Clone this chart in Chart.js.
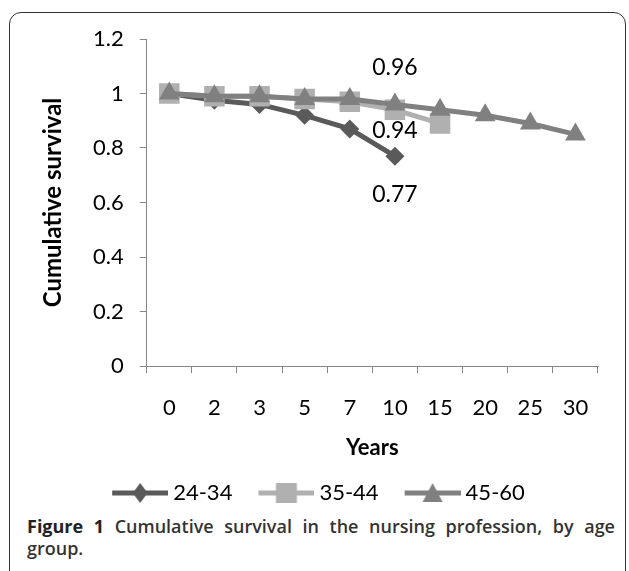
<!DOCTYPE html>
<html>
<head>
<meta charset="utf-8">
<script src="https://cdn.jsdelivr.net/npm/chart.js@4.4.1/dist/chart.umd.min.js"></script>
<style>
    html, body { margin: 0; padding: 0; background: #fff; }
    body { width: 629px; height: 571px; position: relative; overflow: hidden; }
    #frame {
        position: absolute; left: 9px; top: 12px; width: 615px; height: 590px;
        border: 1.5px solid #333; border-radius: 12px;
    }
    #wrap { position: absolute; left: 0; top: 0; width: 629px; height: 514px; }
    #caption {
        position: absolute; left: 27px; top: 515px; width: 588px;
        font-family: "Open Sans", sans-serif; font-size: 18px; line-height: 22px;
        font-weight: 600; text-align: justify; color: #333;
    }
    #caption b { font-weight: 700; color: #222; }
</style>
</head>
<body>
<div id="frame"></div>
<div id="wrap"><canvas id="survivalChart"></canvas></div>
<div id="caption"><b>Figure 1</b> Cumulative survival in the nursing profession, by age group.</div>

<script>
// data
const years = ['0', '2', '3', '5', '7', '10', '15', '20', '25', '30'];
const seriesNames = ['24-34', '35-44', '45-60'];
const age24to34 = [1.0, 0.975, 0.96, 0.92, 0.87, 0.77];
const age35to44 = [1.0, 0.99, 0.99, 0.98, 0.97, 0.94, 0.89];
const age45to60 = [1.0, 0.99, 0.99, 0.98, 0.98, 0.96, 0.94, 0.92, 0.89, 0.85];
const yTicks = [0, 0.2, 0.4, 0.6, 0.8, 1.0, 1.2];

// which points get a value label (series index, category index)
const labelledPoints = [
    { series: 2, index: 5 },
    { series: 1, index: 5 },
    { series: 0, index: 5 }
];

const colors = ['#5a5a5a', '#b0b0b0', '#808080'];
const markers = ['rectRot', 'rect', 'triangle'];
const radii = [9.5, 14.5, 12];
const FONT = 'Lato, "Open Sans", sans-serif';

// legend swatch: line with the marker in the middle, blank space on the left
function legendImage(color, marker) {
    const c = document.createElement('canvas');
    c.width = 77; c.height = 24;
    const g = c.getContext('2d');
    const x0 = 21, x1 = 77, cx = (x0 + x1) / 2;
    g.strokeStyle = color;
    g.lineWidth = 5;
    g.beginPath();
    g.moveTo(x0, 12); g.lineTo(x1, 12);
    g.stroke();
    g.fillStyle = color;
    g.beginPath();
    if (marker === 'rectRot') {
        g.moveTo(cx, 2); g.lineTo(cx + 7.5, 12); g.lineTo(cx, 22); g.lineTo(cx - 7.5, 12);
    } else if (marker === 'rect') {
        g.rect(cx - 10.5, 2, 21, 20);
    } else {
        g.moveTo(cx, 2); g.lineTo(cx + 10, 21); g.lineTo(cx - 10, 21);
    }
    g.closePath();
    g.fill();
    return c;
}

const valueLabels = {
    id: 'valueLabels',
    afterDatasetsDraw(chart) {
        const ctx = chart.ctx;
        const offsets = { 2: -37, 1: 21, 0: 38 };
        ctx.save();
        ctx.font = '23px ' + FONT;
        ctx.fillStyle = '#000';
        ctx.textAlign = 'center';
        ctx.textBaseline = 'middle';
        labelledPoints.forEach(p => {
            const pt = chart.getDatasetMeta(p.series).data[p.index];
            const v = chart.data.datasets[p.series].data[p.index];
            ctx.fillText(v.toFixed(2), pt.x, pt.y + offsets[p.series]);
        });
        ctx.restore();
    }
};

const allSeries = [age24to34, age35to44, age45to60];

new Chart(document.getElementById('survivalChart'), {
    type: 'line',
    data: {
        labels: years,
        datasets: allSeries.map((values, i) => ({
            label: seriesNames[i],
            data: values,
            borderColor: colors[i],
            backgroundColor: colors[i],
            borderWidth: 5,
            pointStyle: markers[i],
            pointRadius: radii[i],
            pointBorderWidth: 0,
            tension: 0,
            fill: false,
            order: 2 - i
        }))
    },
    options: {
        responsive: true,
        maintainAspectRatio: false,
        animation: false,
        layout: { padding: { top: 39, left: 24, right: 31, bottom: 0 } },
        plugins: {
            tooltip: { enabled: false },
            legend: {
                position: 'bottom',
                labels: {
                    usePointStyle: true,
                    pointStyleWidth: 65,
                    padding: 11,
                    color: '#000',
                    font: { family: FONT, size: 22 },
                    generateLabels(chart) {
                        return chart.data.datasets.map((ds, i) => ({
                            text: ds.label,
                            pointStyle: legendImage(colors[i], markers[i]),
                            fillStyle: colors[i],
                            strokeStyle: colors[i],
                            lineWidth: 0,
                            hidden: false,
                            datasetIndex: i
                        }));
                    }
                }
            }
        },
        scales: {
            x: {
                offset: true,
                afterFit(scale) { scale.height = 105; },
                grid: { offset: true, drawOnChartArea: false, tickLength: 7, color: '#868686' },
                border: { color: '#868686' },
                ticks: { color: '#000', font: { family: FONT, size: 22 }, padding: 22 },
                title: {
                    display: true, text: 'Years', color: '#000',
                    font: { family: FONT, size: 22, weight: 'bold' },
                    padding: { top: 0, bottom: 10 }
                }
            },
            y: {
                min: 0,
                max: 1.2,
                afterFit(scale) { scale.width = 122.7; },
                afterBuildTicks(scale) { scale.ticks = yTicks.map(v => ({ value: v })); },
                grid: { drawOnChartArea: false, tickLength: 7, color: '#868686' },
                border: { color: '#868686' },
                ticks: {
                    color: '#000', font: { family: FONT, size: 22 }, padding: 16,
                    callback: v => String(parseFloat(v.toFixed(1)))
                },
                title: {
                    display: true, text: 'Cumulative survival', color: '#000',
                    font: { family: FONT, size: 24, weight: 'bold' },
                    padding: { top: 14.6, bottom: 0 }
                }
            }
        }
    },
    plugins: [valueLabels]
});
</script>
</body>
</html>
